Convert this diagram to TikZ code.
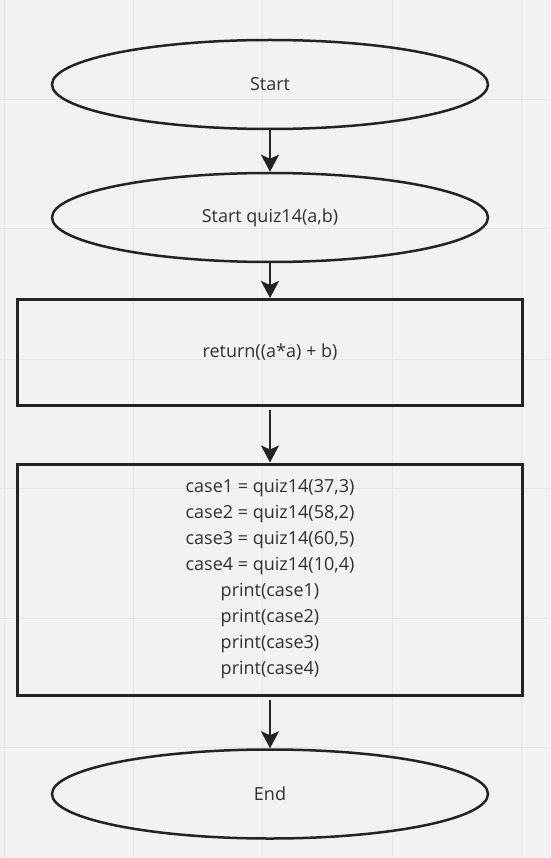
\documentclass[tikz,border=0pt]{standalone}
\usepackage{fontspec}
\setmainfont{Open Sans}
\usetikzlibrary{arrows.meta,shapes.geometric}
\definecolor{bgc}{HTML}{F2F2F2}
\definecolor{gridc}{HTML}{E4E4E4}
\definecolor{inkc}{HTML}{232323}
\definecolor{txtc}{HTML}{303030}

\begin{document}
\begin{tikzpicture}
            [x=1pt, y=-1pt, >={Stealth[length=17pt,width=18pt,inset=4pt]},
            term/.style={ellipse, draw=inkc, line width=2.5pt, minimum width=436pt, minimum height=89pt, inner sep=0pt, text=txtc, font=\fontsize{18pt}{26pt}\selectfont},
            proc/.style={rectangle, draw=inkc, line width=3pt, minimum width=505pt, inner sep=0pt, text=txtc, align=center, font=\fontsize{18pt}{26pt}\selectfont},
            flow/.style={->, draw=inkc, line width=2.5pt}]
            \fill[bgc] (0,0) rectangle (550,858);
            \useasboundingbox (0,0) rectangle (550,858);
            \foreach \gx in {4,133,262,392,521}
                \draw[gridc, line width=1pt] (\gx,0) -- (\gx,858);
            \foreach \gy in {100,229,359,488,618,747}
                \draw[gridc, line width=1pt] (0,\gy) -- (550,\gy);
            \begin{scope}
            \node[term] (start) at (270,84.5) {Start};
            \node[term] (quiz) at (270,217.5) {Start quiz14(a,b)};
            \node[proc, minimum height=106pt] (ret) at (270,352.5) {return((a*a) + b)};
            \node[proc, minimum height=231pt] (calls) at (270,579.5) {case1 = quiz14(37,3)\\case2 = quiz14(58,2)\\case3 = quiz14(60,5)\\case4 = quiz14(10,4)\\print(case1)\\print(case2)\\print(case3)\\print(case4)};
            \node[term] (end) at (270,794) {End};
            \draw[flow] (start) -- (quiz);
            \draw[flow] (quiz) -- (ret);
            \draw[flow, shorten <=3pt] (ret) -- (calls);
            \draw[flow, shorten <=3pt] (calls) -- (end);
            \end{scope}
\end{tikzpicture}
\end{document}
